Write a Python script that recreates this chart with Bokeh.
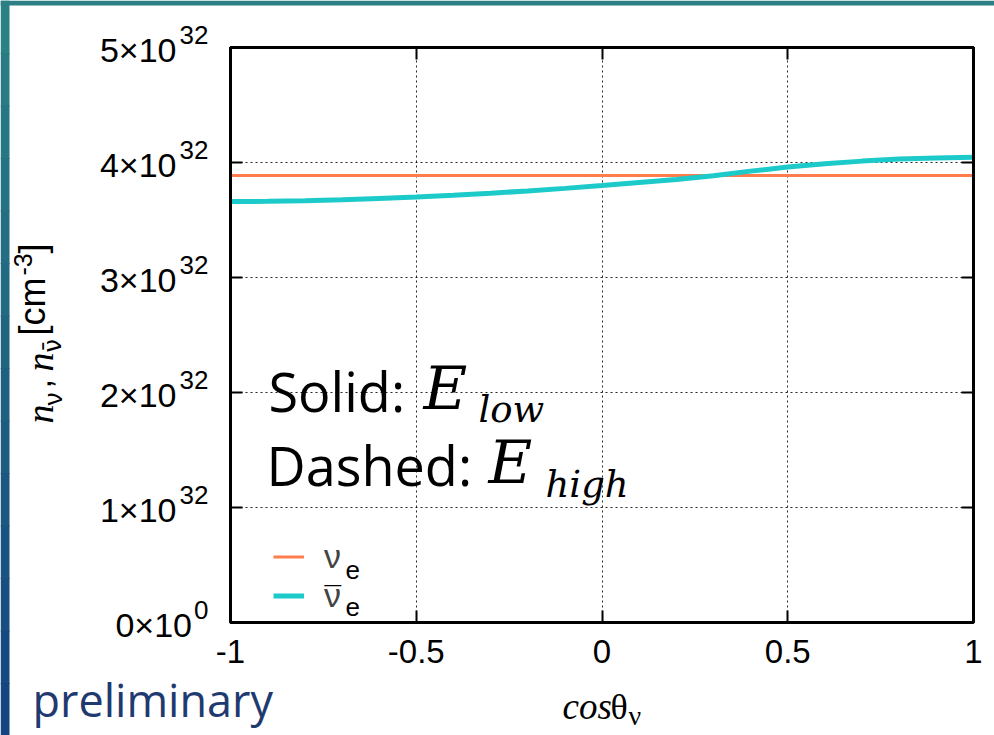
import math
from bokeh.plotting import figure
from bokeh.models import Range1d, FixedTicker, LinearAxis, Label, Legend, LegendItem
from bokeh.embed import file_html
from bokeh.resources import INLINE

# ---------------- data ----------------
cos_theta = [-1.0, -0.9, -0.8, -0.7, -0.6, -0.5, -0.4, -0.3, -0.2, -0.1, 0.0,
             0.1, 0.2, 0.3, 0.4, 0.5, 0.6, 0.7, 0.8, 0.9, 1.0]
n_nu_e = [3.887e32, 3.887e32, 3.887e32, 3.887e32, 3.887e32, 3.887e32, 3.887e32,
          3.887e32, 3.887e32, 3.887e32, 3.887e32, 3.887e32, 3.887e32, 3.887e32,
          3.887e32, 3.887e32, 3.887e32, 3.887e32, 3.887e32, 3.887e32, 3.887e32]
n_nubar_e = [3.660e32, 3.662e32, 3.668e32, 3.676e32, 3.688e32, 3.700e32, 3.716e32,
             3.733e32, 3.753e32, 3.775e32, 3.800e32, 3.826e32, 3.852e32, 3.885e32,
             3.925e32, 3.960e32, 3.990e32, 4.012e32, 4.030e32, 4.040e32, 4.045e32]

x_ticks = [-1, -0.5, 0, 0.5, 1]
x_tick_labels = ["-1", "-0.5", "0", "0.5", "1"]
y_mantissa = [0, 1, 2, 3, 4, 5]
y_exponent = ["0", "32", "32", "32", "32", "32"]
y_ticks = [m * 1e32 for m in y_mantissa]

ORANGE = "#FF7D4C"
CYAN = "#1DCACA"

# page geometry of the plot frame (pixels)
FL, FT, FR, FB = 230, 47, 973, 622
W, H = 994, 735
Y0, Y1 = 0.0, 5e32
X0, X1 = -1.0, 1.0

# ---------------- main plot ----------------
p = figure(width=W, height=H, output_backend="svg", toolbar_location=None,
           x_range=Range1d(X0, X1), y_range=Range1d(Y0, Y1),
           min_border_left=FL, min_border_top=FT, min_border_right=W - FR,
           min_border_bottom=H - FB, background_fill_color="white",
           border_fill_color="white")
p.outline_line_color = "black"
p.outline_line_width = 3

p.xaxis.ticker = FixedTicker(ticks=x_ticks, minor_ticks=[])
p.xaxis.major_label_overrides = {t: s for t, s in zip(x_ticks, x_tick_labels)}
p.yaxis.ticker = FixedTicker(ticks=y_ticks, minor_ticks=[])
for ax in (p.xaxis[0], p.yaxis[0]):
    ax.axis_line_color = "black"
    ax.axis_line_width = 3
    ax.major_tick_in = 12
    ax.major_tick_out = 0
    ax.major_tick_line_width = 2
    ax.minor_tick_in = 0
    ax.minor_tick_out = 0
p.xaxis.major_label_text_font = "Liberation Sans"
p.xaxis.major_label_text_font_size = "33px"
p.xaxis.major_label_text_color = "black"
p.xaxis.major_label_standoff = 17
p.yaxis.major_label_text_font_size = "1px"
p.yaxis.major_label_text_color = None

top = LinearAxis(ticker=FixedTicker(ticks=x_ticks, minor_ticks=[]), major_tick_in=12,
                 major_tick_out=0, minor_tick_in=0, minor_tick_out=0,
                 major_tick_line_width=2, axis_line_width=3,
                 major_label_text_font_size="1px", major_label_text_color=None)
right = LinearAxis(ticker=FixedTicker(ticks=y_ticks, minor_ticks=[]), major_tick_in=12,
                   major_tick_out=0, minor_tick_in=0, minor_tick_out=0,
                   major_tick_line_width=2, axis_line_width=3,
                   major_label_text_font_size="1px", major_label_text_color=None)
p.add_layout(top, "above")
p.add_layout(right, "right")

p.xgrid.ticker = FixedTicker(ticks=x_ticks)
p.ygrid.ticker = FixedTicker(ticks=y_ticks)
p.grid.grid_line_color = "black"
p.grid.grid_line_dash = "2 3"
p.grid.grid_line_width = 1
p.grid.grid_line_alpha = 0.85

r1 = p.line(cos_theta, n_nu_e, line_color=ORANGE, line_width=3)
r2 = p.line(cos_theta, n_nubar_e, line_color=CYAN, line_width=5)

legend = Legend(items=[LegendItem(label="ν", renderers=[r1]),
                       LegendItem(label="ν", renderers=[r2])],
                location=(43, 7), padding=0, margin=0, spacing=0,
                glyph_width=31, glyph_height=35, label_height=35,
                label_standoff=20, border_line_color=None,
                background_fill_alpha=0,
                label_text_font="Liberation Sans", label_text_font_size="34px")
p.add_layout(legend, "center")

# ---------------- transparent overlay in page pixels (texts outside the frame) ----------------
q = figure(width=W, height=H, output_backend="svg", toolbar_location=None,
           x_range=Range1d(0, W), y_range=Range1d(H, 0),
           min_border=0, x_axis_location=None, y_axis_location=None,
           background_fill_color=None, border_fill_color=None,
           outline_line_color=None)
q.grid.visible = False
q.styles = {"position": "absolute", "left": "0px", "top": "0px"}

# slide background strips (left and top edges)
n_seg = 14
for i in range(n_seg):
    f = i / (n_seg - 1)
    r = int(0x2b + (0x15 - 0x2b) * f)
    g = int(0x80 + (0x45 - 0x80) * f)
    b = int(0x84 + (0x80 - 0x84) * f)
    q.quad(left=0, right=9, top=i * H / n_seg, bottom=(i + 1) * H / n_seg + 1,
           fill_color=f"#{r:02x}{g:02x}{b:02x}", line_color=None)
q.quad(left=0, right=W, top=0, bottom=5, fill_color="#2b7f85", line_color=None)

SHIFT = 0.42  # baseline correction (in em)


def lab(text, px, py, font="Liberation Sans", size=30, style="normal",
        color="black", angle=0.0, align="left"):
    if angle:
        px = px - SHIFT * size
    else:
        py = py - SHIFT * size
    q.add_layout(Label(x=px, y=py, text=text, text_font=font,
                       text_font_size=f"{size}px", text_font_style=style,
                       text_color=color, angle=angle, text_align=align,
                       text_baseline="alphabetic"))


# y tick labels: mantissa x 10^exponent at each tick position
for v, m, e in zip(y_ticks, y_mantissa, y_exponent):
    ty = FB - (v - Y0) / (Y1 - Y0) * (FB - FT)
    lab(e, 208, ty - 2, size=26, align="right")
    lab(f"{m}×10", 207 - 15.5 * len(e), ty + 17, size=34, align="right")

# y axis label (rotated pieces)
for t, f, s, st, bx, by in [
    ("n", "Liberation Serif", 38, "italic", 55, 423),
    ("ν", "Liberation Sans", 26, "normal", 63, 405),
    (",", "Liberation Sans", 34, "normal", 53, 388),
    ("n", "Liberation Serif", 38, "italic", 55, 371),
    ("ν̄", "DejaVu Sans", 24, "normal", 63, 352),
    ("[cm", "Liberation Sans", 36, "normal", 47, 335),
    ("-3", "Liberation Sans", 25, "normal", 33, 275),
    ("]", "Liberation Sans", 36, "normal", 47, 253),
]:
    lab(t, bx, by, font=f, size=s, style=st, angle=math.pi / 2)

# x axis label
lab("cos", 562, 722, font="Liberation Serif", size=37, style="italic")
lab("θ", 610, 722, font="Liberation Serif", size=36)
lab("ν", 628, 727, font="Liberation Serif", size=28)

# annotation text inside the frame
lab("Solid:", 268, 413, font="Open Sans", size=54)
lab("E", 423, 413, font="DejaVu Serif", size=60, style="italic")
lab("low", 478, 425, font="DejaVu Serif", size=37, style="italic")
lab("Dashed:", 266, 487, font="Open Sans", size=54)
lab("E", 488, 487, font="DejaVu Serif", size=60, style="italic")
lab("high", 545, 500, font="DejaVu Serif", size=37, style="italic")

# legend subscripts and bar
lab("e", 345, 580, size=26)
lab("e", 345, 617, size=26)
lab("¯", 324, 609, size=30)

lab("preliminary", 32, 718, font="Open Sans", size=45, color="#1F3A70")

open("out.html", "w").write(file_html([p, q], INLINE))
